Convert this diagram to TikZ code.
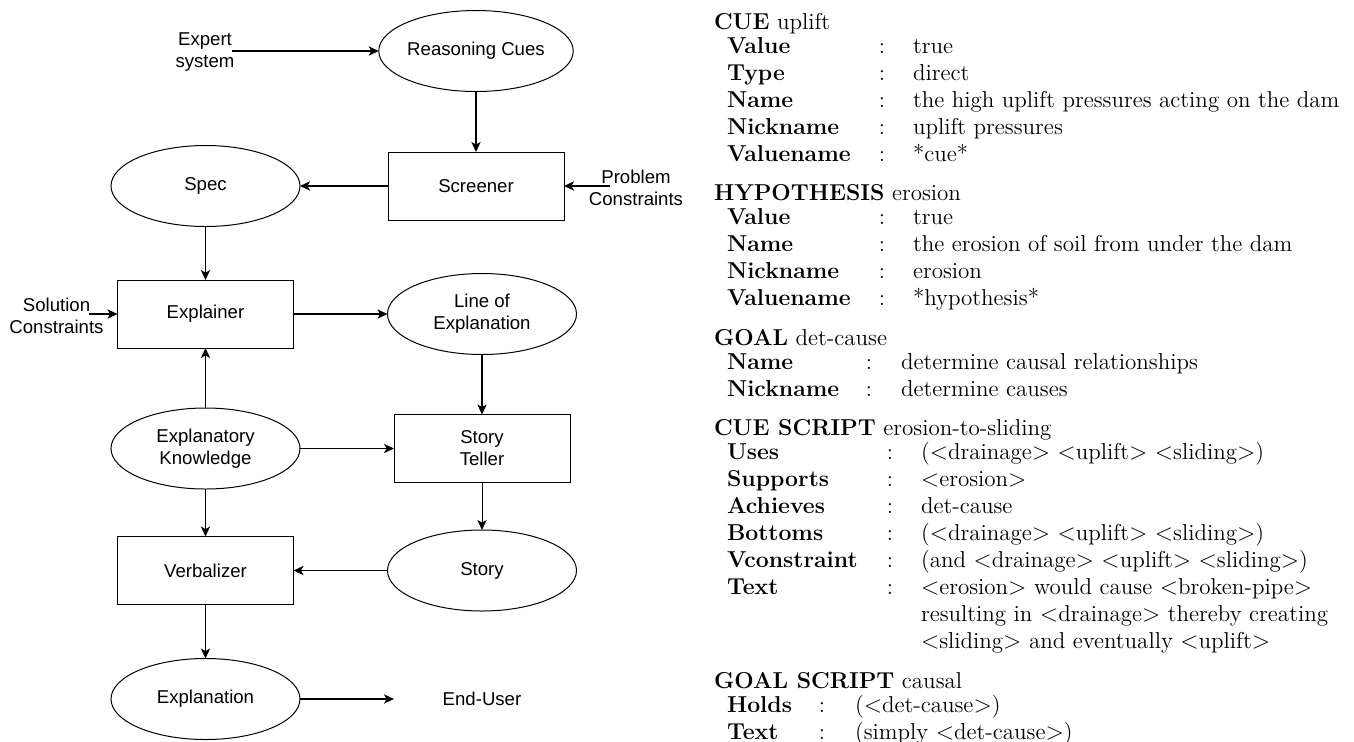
\documentclass[tikz,border=0pt]{standalone}
\usepackage{fontspec}
\usetikzlibrary{shapes.geometric,arrows.meta}
\newfontfamily\dfont{Liberation Sans}
\begin{document}
\begin{tikzpicture}[x=0.5pt,y=-0.5pt,
  every node/.style={outer sep=0pt},
  dtext/.style={font=\dfont\fontsize{9.3}{11}\selectfont},
  oval/.style={ellipse,draw,line width=0.5pt,minimum width=94.5pt,minimum height=40.5pt,inner sep=0pt,align=center,dtext},
  blk/.style={rectangle,draw,line width=0.5pt,minimum width=88pt,minimum height=34pt,inner sep=0pt,align=center,dtext},
  lbl/.style={align=center,inner sep=0pt,dtext},
  conn/.style={line width=0.75pt,-{Stealth[length=5pt,width=4.6pt,inset=1.3pt]}},
  thinconn/.style={conn,line width=0.45pt},
  rtext/.style={inner sep=0pt,font=\fontsize{11.5}{13}\selectfont},
  hd/.style={rtext,anchor=base west},
  lb/.style={rtext,anchor=base west,font=\fontsize{11.5}{13}\selectfont\bfseries},
  cl/.style={rtext,anchor=base},
  vl/.style={rtext,anchor=base west}
]
\useasboundingbox (0,0) rectangle (1354,741);

% ---------- left diagram ----------
\node[oval] (rc) at (476,51) {Reasoning Cues};
\node[blk] (scr) at (476,186) {Screener};
\node[oval] (spec) at (205.5,186) {Spec};
\node[blk] (expl) at (205.5,314) {Explainer};
\node[oval] (loe) at (482,314) {Line of\\Explanation};
\node[blk] (st) at (482,448.5) {Story\\Teller};
\node[oval] (ek) at (205.5,448.5) {Explanatory\\Knowledge};
\node[blk] (verb) at (205.5,570.5) {Verbalizer};
\node[oval] (story) at (482,570.5) {Story};
\node[oval] (expn) at (205.5,699) {Explanation};
\node[lbl,minimum width=88pt] (eu) at (482,699) {End-User};

\node[lbl] (expert) at (205,52) {Expert\\system};
\node[lbl] (prob) at (636,188) {Problem\\Constraints};
\node[lbl] (sol) at (56.5,316) {Solution\\Constraints};
\coordinate (expertout) at (232,51);
\coordinate (probin) at (610,186);
\coordinate (solin) at (89,314);

\draw[conn] (expertout) -- (rc.west);
\draw[conn] (rc.south) -- (scr.north);
\draw[conn] (probin) -- (scr.east);
\draw[conn] (scr.west) -- (spec.east);
\draw[conn] (spec.south) -- (expl.north);
\draw[conn] (solin) -- (expl.west);
\draw[conn] (expl.east) -- (loe.west);
\draw[conn] (loe.south) -- (st.north);
\draw[conn] (ek.east) -- (st.west);
\draw[conn] (ek.north) -- (expl.south);
\draw[thinconn] (ek.south) -- (verb.north);
\draw[thinconn] (st.south) -- (story.north);
\draw[conn] (story.west) -- (verb.east);
\draw[conn] (verb.south) -- (expn.north);
\draw[conn] (expn.east) -- (eu.west);

% ---------- right text ----------
\node[hd] (h1) at (714,29) {\textbf{CUE} uplift};
\foreach \i/\y/\l/\v in {1/53/Value/true,2/80/Type/direct,3/107/Name/the high uplift pressures acting on the dam,4/134/Nickname/uplift pressures,5/161/Valuename/*cue*}{
  \node[lb] (a\i-l) at (727,\y) {\l};
  \node[cl] (a\i-c) at (882,\y) {:};
  \node[vl] (a\i-v) at (913,\y) {\v};
}
\node[hd] (h2) at (714,200.5) {\textbf{HYPOTHESIS} erosion};
\foreach \i/\y/\l/\v in {1/224.5/Value/true,2/251.5/Name/the erosion of soil from under the dam,3/278.5/Nickname/erosion,4/305.5/Valuename/*hypothesis*}{
  \node[lb] (b\i-l) at (727,\y) {\l};
  \node[cl] (b\i-c) at (882,\y) {:};
  \node[vl] (b\i-v) at (913,\y) {\v};
}
\node[hd] (h3) at (714,345) {\textbf{GOAL} det-cause};
\foreach \i/\y/\l/\v in {1/369/Name/determine causal relationships,2/396/Nickname/determine causes}{
  \node[lb] (c\i-l) at (727,\y) {\l};
  \node[cl] (c\i-c) at (869,\y) {:};
  \node[vl] (c\i-v) at (901,\y) {\v};
}
\node[hd] (h4) at (714,435.5) {\textbf{CUE SCRIPT} erosion-to-sliding};
\foreach \i/\y/\l/\v in {1/459.5/Uses/($<$drainage$>$ $<$uplift$>$ $<$sliding$>$),2/486.5/Supports/$<$erosion$>$,3/513.5/Achieves/det-cause,4/540.5/Bottoms/($<$drainage$>$ $<$uplift$>$ $<$sliding$>$),5/567.5/Vconstraint/(and $<$drainage$>$ $<$uplift$>$ $<$sliding$>$),6/594.5/Text/$<$erosion$>$ would cause $<$broken-pipe$>$}{
  \node[lb] (d\i-l) at (727,\y) {\l};
  \node[cl] (d\i-c) at (890,\y) {:};
  \node[vl] (d\i-v) at (921,\y) {\v};
}
\node[vl] (d7-v) at (921,621.5) {resulting in $<$drainage$>$ thereby creating};
\node[vl] (d8-v) at (921,648.5) {$<$sliding$>$ and eventually $<$uplift$>$};
\node[hd] (h5) at (714,688) {\textbf{GOAL SCRIPT} causal};
\foreach \i/\y/\l/\v in {1/712/Holds/($<$det-cause$>$),2/739/Text/(simply $<$det-cause$>$)}{
  \node[lb] (e\i-l) at (727,\y) {\l};
  \node[cl] (e\i-c) at (822,\y) {:};
  \node[vl] (e\i-v) at (855,\y) {\v};
}
\end{tikzpicture}
\end{document}
